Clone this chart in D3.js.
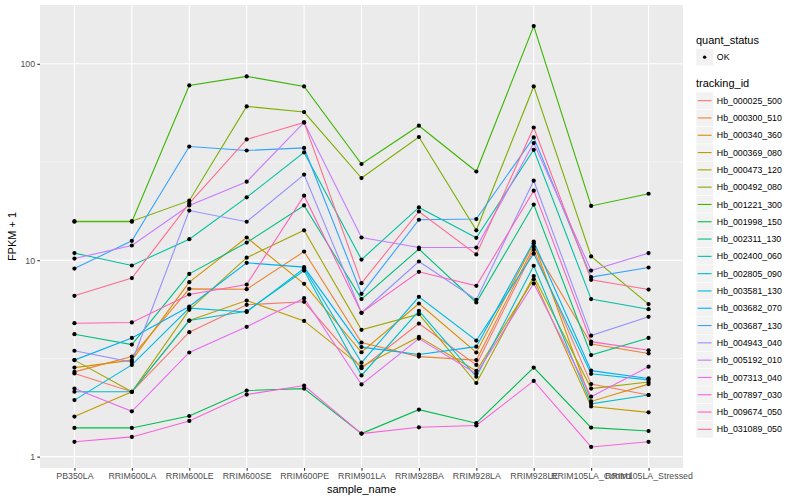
<!DOCTYPE html>
<html><head><meta charset="utf-8">
<script src="https://cdn.jsdelivr.net/npm/d3@7"></script>
<style>body{margin:0;background:#fff}svg{display:block}</style>
</head><body>
<svg id="chart" width="800" height="500"></svg>
<script>
const samples = ["PB350LA","RRIM600LA","RRIM600LE","RRIM600SE","RRIM600PE","RRIM901LA","RRIM928BA","RRIM928LA","RRIM928LE","RRIM105LA_Control","RRIM105LA_Stressed"];
const trackingIds = ["Hb_000025_500","Hb_000300_510","Hb_000340_360","Hb_000369_080","Hb_000473_120","Hb_000492_080","Hb_001221_300","Hb_001998_150","Hb_002311_130","Hb_002400_060","Hb_002805_090","Hb_003581_130","Hb_003682_070","Hb_003687_130","Hb_004943_040","Hb_005192_010","Hb_007313_040","Hb_007897_030","Hb_009674_050","Hb_031089_050"];
const colors = ["#F8766D","#EA8331","#D89000","#C09B00","#A3A500","#7CAE00","#39B600","#00BB4E","#00BF7D","#00C1A3","#00BFC4","#00BAE0","#00B0F6","#35A2FF","#9590FF","#C77CFF","#E76BF3","#FA62DB","#FF62BC","#FF6C91"];
const yTicks = [1, 10, 100];
const quantStatus = ["OK"];

// FPKM + 1 per sample, one array per tracking_id
const hb_000025_500 = [2.65, 2.14, 4.30, 5.93, 6.14, 2.82, 4.76, 2.93, 11.3, 2.34, 2.06];
const hb_000300_510 = [2.70, 3.23, 7.15, 7.12, 11.07, 3.81, 3.23, 3.10, 11.7, 3.74, 3.35];
const hb_000340_360 = [2.84, 3.10, 7.73, 13.05, 7.58, 3.40, 6.02, 3.39, 12.2, 1.91, 2.34];
const hb_000369_080 = [1.60, 2.14, 4.93, 6.23, 4.91, 2.87, 4.07, 2.73, 8.0, 1.80, 1.68];
const hb_000473_120 = [3.10, 2.14, 5.59, 10.3, 14.2, 4.42, 5.31, 2.37, 8.3, 2.22, 2.40];
const hb_000492_080 = [15.8, 15.8, 20.1, 60.7, 56.8, 26.2, 42.4, 14.2, 76.7, 10.45, 5.98];
const hb_001221_300 = [15.7, 15.7, 77.6, 86.3, 76.7, 30.9, 48.4, 28.3, 155.7, 18.9, 21.8];
const hb_001998_150 = [1.40, 1.40, 1.61, 2.17, 2.22, 1.31, 1.735, 1.48, 2.84, 1.405, 1.35];
const hb_002311_130 = [4.20, 3.72, 8.52, 12.3, 19.0, 6.34, 11.4, 6.09, 19.2, 3.29, 4.02];
const hb_002400_060 = [10.87, 9.4, 12.8, 20.9, 35.4, 10.08, 18.56, 13.0, 36.5, 6.34, 5.63];
const hb_002805_090 = [2.14, 2.14, 4.93, 5.50, 8.86, 2.59, 5.52, 2.55, 9.37, 1.855, 2.06];
const hb_003581_130 = [1.94, 2.93, 5.70, 5.45, 9.10, 3.01, 6.51, 3.90, 10.8, 2.64, 2.46];
const hb_003682_070 = [3.10, 4.02, 5.81, 9.70, 9.22, 3.61, 3.31, 3.63, 12.45, 2.74, 2.50];
const hb_003687_130 = [9.07, 12.55, 37.9, 36.2, 37.3, 6.74, 16.07, 16.2, 42.2, 8.2, 9.18];
const hb_004943_040 = [3.46, 3.03, 17.9, 15.7, 27.3, 5.40, 9.85, 6.29, 25.4, 4.13, 5.15];
const hb_005192_010 = [10.2, 11.88, 19.0, 25.1, 50.3, 13.05, 11.6, 11.6, 39.5, 8.86, 10.87];
const hb_007313_040 = [2.22, 1.70, 3.39, 4.58, 6.41, 2.33, 3.99, 2.64, 7.61, 2.02, 2.87];
const hb_007897_030 = [1.19, 1.26, 1.52, 2.07, 2.30, 1.31, 1.41, 1.44, 2.43, 1.12, 1.19];
const hb_009674_050 = [4.78, 4.82, 6.69, 7.52, 21.3, 5.40, 8.73, 7.41, 22.6, 3.85, 3.48];
const hb_031089_050 = [6.59, 8.11, 19.45, 41.2, 50.3, 7.64, 17.7, 10.7, 47.4, 7.95, 7.09];

const seriesValues = [hb_000025_500, hb_000300_510, hb_000340_360, hb_000369_080, hb_000473_120, hb_000492_080, hb_001221_300, hb_001998_150, hb_002311_130, hb_002400_060, hb_002805_090, hb_003581_130, hb_003682_070, hb_003687_130, hb_004943_040, hb_005192_010, hb_007313_040, hb_007897_030, hb_009674_050, hb_031089_050];

const series = trackingIds.map((id, i) => ({
  id, color: colors[i],
  values: samples.map((s, j) => ({sample: s, v: seriesValues[i][j]}))
}));

const svg = d3.select("#chart");
const font = "'Liberation Sans', Arial, Helvetica, sans-serif";
const P = {left: 40, right: 683, top: 5, bottom: 468};

const x = d3.scalePoint().domain(samples).range([P.left, P.right]).padding(0.6);
const allV = seriesValues.flat();
const lmin = Math.log10(d3.min(allV)), lmax = Math.log10(d3.max(allV));
const ex = (lmax - lmin) * 0.05;
const y = d3.scaleLog().domain([Math.pow(10, lmin - ex), Math.pow(10, lmax + ex)]).range([P.bottom, P.top]);

// panel
svg.append("rect").attr("x", P.left).attr("y", P.top).attr("width", P.right - P.left).attr("height", P.bottom - P.top).attr("fill", "#EBEBEB");

const g = svg.append("g");
// minor grid
const minor = [0.5, 1.5, 2.5].map(e => Math.pow(10, e)).filter(v => y(v) > P.top && y(v) < P.bottom);
g.selectAll(".minor").data(minor).join("line")
  .attr("x1", P.left).attr("x2", P.right).attr("y1", d => y(d)).attr("y2", d => y(d))
  .attr("stroke", "#fff").attr("stroke-width", 0.55);
// major grid
g.selectAll(".hmaj").data(yTicks).join("line")
  .attr("x1", P.left).attr("x2", P.right).attr("y1", d => y(d)).attr("y2", d => y(d))
  .attr("stroke", "#fff").attr("stroke-width", 1.1);
g.selectAll(".vmaj").data(samples).join("line")
  .attr("y1", P.top).attr("y2", P.bottom).attr("x1", d => x(d)).attr("x2", d => x(d))
  .attr("stroke", "#fff").attr("stroke-width", 1.1);

// lines
const line = d3.line().x(d => x(d.sample)).y(d => y(d.v));
svg.append("g").selectAll("path").data(series).join("path")
  .attr("d", d => line(d.values)).attr("fill", "none")
  .attr("stroke", d => d.color).attr("stroke-width", 1.1);

// points
svg.append("g").selectAll("g").data(series).join("g")
  .selectAll("circle").data(d => d.values).join("circle")
  .attr("cx", d => x(d.sample)).attr("cy", d => y(d.v)).attr("r", 2.1).attr("fill", "#000");

// y axis
const yAxis = d3.axisLeft(y).tickValues(yTicks).tickFormat(d3.format("d")).tickSize(2.7).tickPadding(2.2);
const ya = svg.append("g").attr("transform", `translate(${P.left},0)`).call(yAxis);
ya.select(".domain").remove();
ya.selectAll(".tick line").attr("stroke", "#333").attr("stroke-width", 1.1);
ya.selectAll(".tick text").attr("fill", "#4D4D4D").style("font-family", font).style("font-size", "8.8px");

// x axis
const xAxis = d3.axisBottom(x).tickSize(2.7).tickPadding(2.2);
const xa = svg.append("g").attr("transform", `translate(0,${P.bottom})`).call(xAxis);
xa.select(".domain").remove();
xa.selectAll(".tick line").attr("stroke", "#333").attr("stroke-width", 1.1);
xa.selectAll(".tick text").attr("fill", "#4D4D4D").style("font-family", font).style("font-size", "8.8px");

// axis titles
svg.append("text").attr("x", (P.left + P.right) / 2).attr("y", 492.5).attr("text-anchor", "middle")
  .style("font-family", font).style("font-size", "11px").attr("fill", "#000").text("sample_name");
svg.append("text").attr("transform", `translate(16,${(P.top + P.bottom) / 2}) rotate(-90)`).attr("text-anchor", "middle")
  .style("font-family", font).style("font-size", "11px").attr("fill", "#000").text("FPKM + 1");

// legend
const L = {x: 696, keyW: 17.3, keyH: 17.3};
const lg = svg.append("g");
lg.append("text").attr("x", L.x).attr("y", 43.5).style("font-family", font).style("font-size", "11px").text("quant_status");
const q = lg.selectAll(".q").data(quantStatus).join("g").attr("transform", (d, i) => `translate(${L.x},${48.5 + i * L.keyH})`);
q.append("rect").attr("width", L.keyW).attr("height", L.keyH).attr("fill", "#F2F2F2").attr("stroke", "#fff").attr("stroke-width", 0.5);
q.append("circle").attr("cx", L.keyW / 2).attr("cy", L.keyH / 2).attr("r", 1.7).attr("fill", "#000");
q.append("text").attr("x", L.keyW + 3.5).attr("y", L.keyH / 2).attr("dy", "0.35em").style("font-family", font).style("font-size", "8.8px").text(d => d);

lg.append("text").attr("x", L.x).attr("y", 86.5).style("font-family", font).style("font-size", "11px").text("tracking_id");
const k = lg.selectAll(".k").data(series).join("g").attr("transform", (d, i) => `translate(${L.x},${92 + i * L.keyH})`);
k.append("rect").attr("width", L.keyW).attr("height", L.keyH).attr("fill", "#F2F2F2").attr("stroke", "#fff").attr("stroke-width", 0.5);
k.append("line").attr("x1", 1.7).attr("x2", L.keyW - 1.7).attr("y1", L.keyH / 2).attr("y2", L.keyH / 2)
  .attr("stroke", d => d.color).attr("stroke-width", 1.1);
k.append("text").attr("x", L.keyW + 3.5).attr("y", L.keyH / 2).attr("dy", "0.35em").style("font-family", font).style("font-size", "8.8px").text(d => d.id);
</script>
</body></html>
